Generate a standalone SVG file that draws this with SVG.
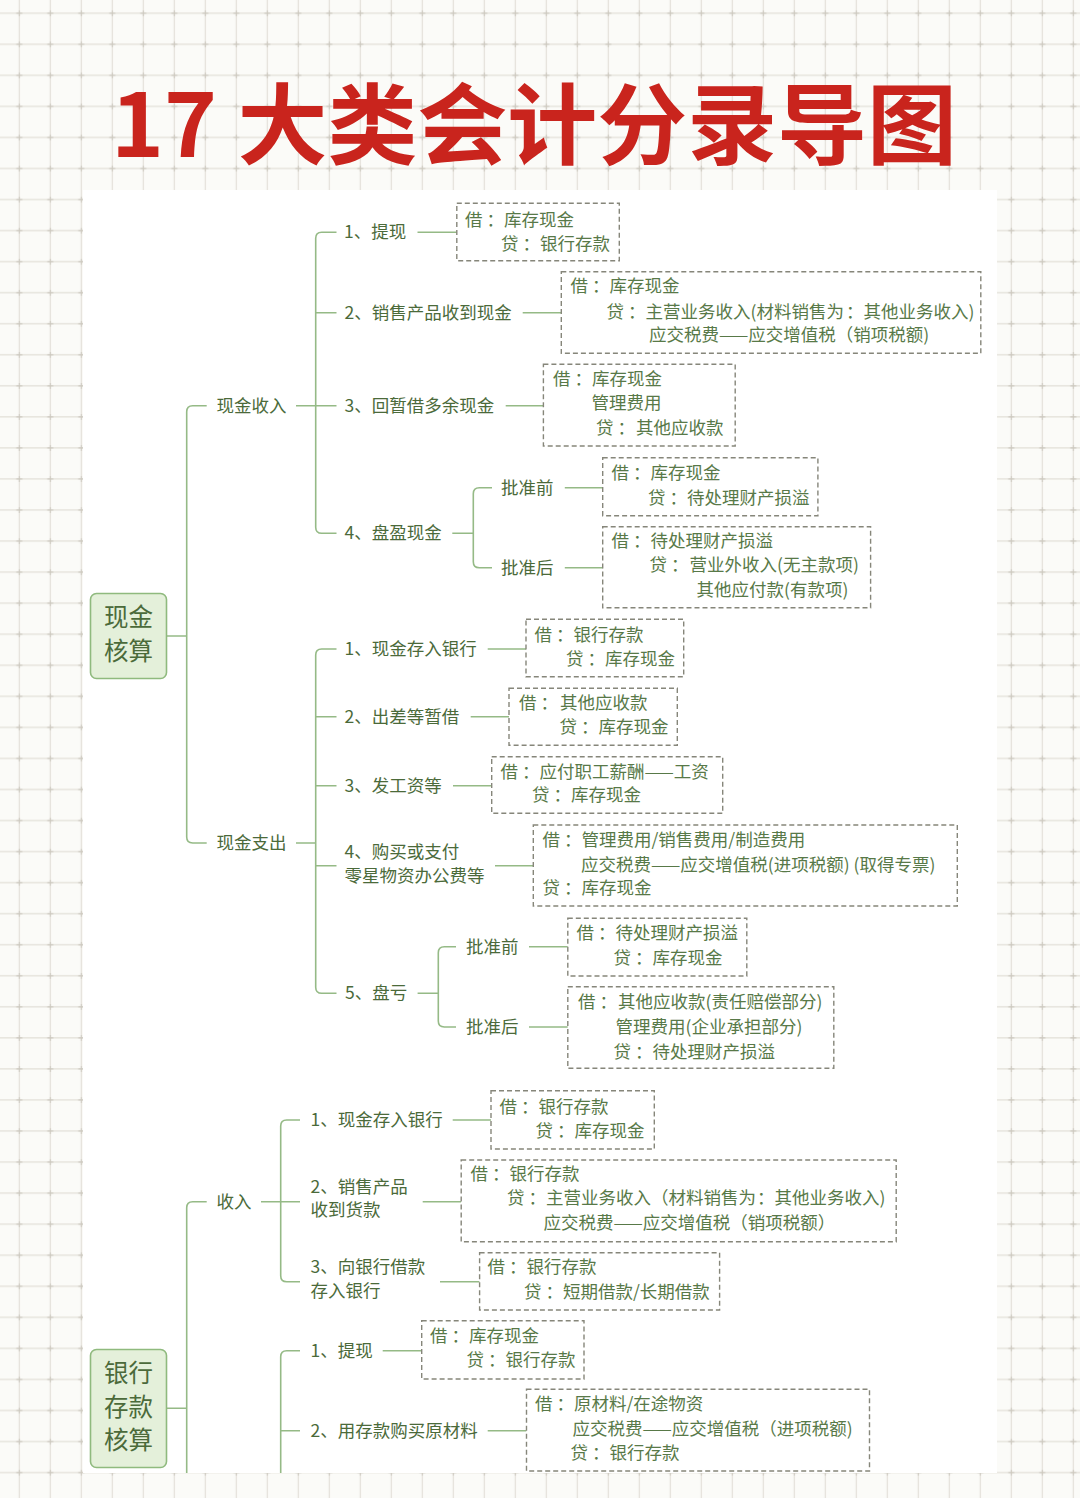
<svg xmlns="http://www.w3.org/2000/svg" width="1080" height="1498" viewBox="0 0 1080 1498">
<defs>
<pattern id="grid" x="3.8" y="-2.2" width="31" height="31.05" patternUnits="userSpaceOnUse">
<path d="M15.5 0V31.05M0 15.5H31" stroke="#e2dfd8" stroke-width="1.2" fill="none"/>
<path d="M12.5 15.5H18.5M15.5 12.5V18.5" stroke="#cdc9bf" stroke-width="1.2" fill="none"/>
</pattern>
</defs>
<style>
text{font-family:"Noto Sans CJK SC","Noto Sans",sans-serif}
.t{font-size:17.5px;fill:#4b6a3a}
.b{font-size:17.5px;fill:#587948}
.box{fill:#fff;stroke:#86867a;stroke-width:1.4;stroke-dasharray:5 3}
.c{fill:none;stroke:#95ba86;stroke-width:1.6}
.rr{fill:#e4f0da;stroke:#8fba7e;stroke-width:1.6}
.rt{font-size:24.5px;fill:#4b6a3a;text-anchor:middle}
.title{font-size:88px;font-weight:700;fill:#c9241d}
</style>
<rect width="1080" height="1498" fill="#fbfbf8"/>
<rect width="1080" height="1498" fill="url(#grid)"/>
<rect x="83" y="190" width="914" height="1283" fill="#ffffff"/>
<text class="title" x="111" y="157" textLength="846" lengthAdjust="spacingAndGlyphs">17 大类会计分录导图</text>

<g id="connectors">
<path class="c" d="M166.7 636H186.7M206.7 405.7H192.7Q186.7 405.7 186.7 411.7V837Q186.7 843 192.7 843H206.7"/>
<path class="c" d="M296 405.7H336.5M336.5 232.3H321.7Q315.7 232.3 315.7 238.3V527.3Q315.7 533.3 321.7 533.3H336.5M315.7 312.7H336.5"/>
<path class="c" d="M417.5 232.3H456.8M522.7 312.7H561.3M505.7 405.7H543.4M452.3 533.3H473.3M492 487.7H479.3Q473.3 487.7 473.3 493.7V561.7Q473.3 567.7 479.3 567.7H492M564.8 487.7H602.7M564.8 567.7H602.7"/>
<path class="c" d="M296 843H315.7M336.5 649H321.7Q315.7 649 315.7 655V987.3Q315.7 993.3 321.7 993.3H336.5M315.7 716.7H336.5M315.7 785.7H336.5M315.7 865.7H336.5"/>
<path class="c" d="M487.7 649H526M470.7 716.7H509M453 785.7H491.7M495 865.7H533.3M417.6 993.3H438.3M456 946.7H444.3Q438.3 946.7 438.3 952.7V1021Q438.3 1027 444.3 1027H456M529 946.7H567.8M529 1027H567.8"/>
<path class="c" d="M166.7 1408.3H186.7M206.7 1201.7H192.7Q186.7 1201.7 186.7 1207.7V1473M261 1201.7H300M300 1120H286.7Q280.7 1120 280.7 1126V1275.7Q280.7 1281.7 286.7 1281.7H300"/>
<path class="c" d="M452.7 1120H491M422.7 1201.7H461.2M440 1281.7H479.6M300 1350.7H286.7Q280.7 1350.7 280.7 1356.7V1473M280.7 1430.7H300M382.7 1350.7H421.7M487.7 1430.7H526.5"/>
</g>

<g id="root-cash">
<rect class="rr" x="90.5" y="593.5" width="76" height="85" rx="6"/>
<text class="rt" x="128.5" y="626">现金</text>
<text class="rt" x="128.5" y="660">核算</text>
</g>

<g id="cash-in"><text class="t" x="216.5" y="411.7">现金收入</text></g>
<g id="ci-1"><text class="t" x="344" y="238.3">1、提现</text></g>
<g id="ci-2"><text class="t" x="344.5" y="318.7">2、销售产品收到现金</text></g>
<g id="ci-3"><text class="t" x="344.5" y="411.7">3、回暂借多余现金</text></g>
<g id="ci-4"><text class="t" x="344.5" y="539.3">4、盘盈现金</text></g>
<g id="ci-4a"><text class="t" x="501" y="493.7">批准前</text></g>
<g id="ci-4b"><text class="t" x="501" y="573.7">批准后</text></g>

<g id="box-ci-1">
<rect class="box" x="456.8" y="203.3" width="162.5" height="57.4"/>
<text class="b" x="465" y="226">借<tspan dx="4">：</tspan><tspan>库存现金</tspan></text>
<text class="b" x="501" y="250.3">贷<tspan dx="4">：</tspan><tspan>银行存款</tspan></text>
</g>
<g id="box-ci-2">
<rect class="box" x="561.3" y="271.7" width="419.5" height="81.6"/>
<text class="b" x="570.5" y="292">借<tspan dx="4">：</tspan><tspan>库存现金</tspan></text>
<text class="b" x="606.5" y="317.7">贷<tspan dx="4">：</tspan><tspan>主营业务收入(材料销售为</tspan><tspan dx="2">：</tspan><tspan>其他业务收入)</tspan></text>
<text class="b" x="649" y="341">应交税费——应交增值税（销项税额)</text>
</g>
<g id="box-ci-3">
<rect class="box" x="543.4" y="364.3" width="191.8" height="81.7"/>
<text class="b" x="553" y="385.3">借<tspan dx="4">：</tspan><tspan>库存现金</tspan></text>
<text class="b" x="591.5" y="409.3">管理费用</text>
<text class="b" y="433.7"><tspan x="596">贷</tspan><tspan dx="4">：</tspan><tspan x="636">其他应收款</tspan></text>
</g>
<g id="box-ci-4a">
<rect class="box" x="602.7" y="457.7" width="215.2" height="58"/>
<text class="b" x="611.5" y="479.3">借<tspan dx="4">：</tspan><tspan>库存现金</tspan></text>
<text class="b" x="648" y="503.7">贷<tspan dx="4">：</tspan><tspan>待处理财产损溢</tspan></text>
</g>
<g id="box-ci-4b">
<rect class="box" x="602.7" y="526.7" width="267.9" height="81"/>
<text class="b" x="611.5" y="547">借<tspan dx="4">：</tspan><tspan>待处理财产损溢</tspan></text>
<text class="b" y="571"><tspan x="649.5">贷</tspan><tspan dx="4">：</tspan><tspan x="689.5">营业外收入(无主款项)</tspan></text>
<text class="b" x="696.5" y="596">其他应付款(有款项)</text>
</g>

<g id="cash-out"><text class="t" x="216.5" y="849">现金支出</text></g>
<g id="co-1"><text class="t" x="344.5" y="655">1、现金存入银行</text></g>
<g id="co-2"><text class="t" x="344.5" y="722.7">2、出差等暂借</text></g>
<g id="co-3"><text class="t" x="344.5" y="791.7">3、发工资等</text></g>
<g id="co-4"><text class="t" x="344.5" y="857.7">4、购买或支付</text><text class="t" x="344.5" y="882">零星物资办公费等</text></g>
<g id="co-5"><text class="t" x="345" y="999.3">5、盘亏</text></g>
<g id="co-5a"><text class="t" x="466" y="952.7">批准前</text></g>
<g id="co-5b"><text class="t" x="466" y="1032.7">批准后</text></g>

<g id="box-co-1">
<rect class="box" x="526" y="619.3" width="157.7" height="57.4"/>
<text class="b" x="534.5" y="641">借<tspan dx="4">：</tspan><tspan>银行存款</tspan></text>
<text class="b" x="566" y="665.3">贷<tspan dx="4">：</tspan><tspan>库存现金</tspan></text>
</g>
<g id="box-co-2">
<rect class="box" x="509" y="688.3" width="168.3" height="57"/>
<text class="b" y="708.7"><tspan x="519">借</tspan><tspan dx="4">：</tspan><tspan x="560">其他应收款</tspan></text>
<text class="b" x="559.5" y="732.7">贷<tspan dx="4">：</tspan><tspan>库存现金</tspan></text>
</g>
<g id="box-co-3">
<rect class="box" x="491.7" y="756.7" width="231" height="56.6"/>
<text class="b" x="500.5" y="777.7">借<tspan dx="4">：</tspan><tspan>应付职工薪酬——工资</tspan></text>
<text class="b" x="532" y="801">贷<tspan dx="4">：</tspan><tspan>库存现金</tspan></text>
</g>
<g id="box-co-4">
<rect class="box" x="533.3" y="825" width="424" height="81"/>
<text class="b" x="542.5" y="846">借<tspan dx="4">：</tspan><tspan>管理费用/销售费用/制造费用</tspan></text>
<text class="b" x="581" y="871">应交税费——应交增值税(进项税额) (取得专票)</text>
<text class="b" x="542.5" y="894.3">贷<tspan dx="4">：</tspan><tspan>库存现金</tspan></text>
</g>
<g id="box-co-5a">
<rect class="box" x="567.8" y="918.3" width="179" height="57.7"/>
<text class="b" x="576.5" y="939.3">借<tspan dx="4">：</tspan><tspan>待处理财产损溢</tspan></text>
<text class="b" x="613.5" y="964.3">贷<tspan dx="4">：</tspan><tspan>库存现金</tspan></text>
</g>
<g id="box-co-5b">
<rect class="box" x="567.8" y="986.7" width="266" height="81.6"/>
<text class="b" y="1007.7"><tspan x="578">借</tspan><tspan dx="4">：</tspan><tspan x="618">其他应收款(责任赔偿部分)</tspan></text>
<text class="b" x="615.5" y="1032.7">管理费用(企业承担部分)</text>
<text class="b" x="613.5" y="1057.7">贷<tspan dx="4">：</tspan><tspan>待处理财产损溢</tspan></text>
</g>

<g id="root-bank">
<rect class="rr" x="90.5" y="1349.5" width="76" height="118" rx="6"/>
<text class="rt" x="128.5" y="1382">银行</text>
<text class="rt" x="128.5" y="1416">存款</text>
<text class="rt" x="128.5" y="1449">核算</text>
</g>

<g id="bank-in"><text class="t" x="216.5" y="1207.7">收入</text></g>
<g id="bi-1"><text class="t" x="310.5" y="1126">1、现金存入银行</text></g>
<g id="bi-2"><text class="t" x="310.5" y="1192.7">2、销售产品</text><text class="t" x="310.5" y="1216">收到货款</text></g>
<g id="bi-3"><text class="t" x="310.5" y="1272.7">3、向银行借款</text><text class="t" x="310.5" y="1297">存入银行</text></g>
<g id="bo-1"><text class="t" x="310.5" y="1356.7">1、提现</text></g>
<g id="bo-2"><text class="t" x="310.5" y="1436.7">2、用存款购买原材料</text></g>

<g id="box-bi-1">
<rect class="box" x="491" y="1090.7" width="163.3" height="58.3"/>
<text class="b" x="499.5" y="1112.7">借<tspan dx="4">：</tspan><tspan>银行存款</tspan></text>
<text class="b" x="535.5" y="1137">贷<tspan dx="4">：</tspan><tspan>库存现金</tspan></text>
</g>
<g id="box-bi-2">
<rect class="box" x="461.2" y="1160" width="435" height="81.7"/>
<text class="b" x="470.5" y="1180.3">借<tspan dx="4">：</tspan><tspan>银行存款</tspan></text>
<text class="b" x="507" y="1204.3">贷<tspan dx="4">：</tspan><tspan>主营业务收入（材料销售为</tspan><tspan dx="1">：</tspan><tspan>其他业务收入)</tspan></text>
<text class="b" x="543.5" y="1229.3">应交税费——应交增值税（销项税额）</text>
</g>
<g id="box-bi-3">
<rect class="box" x="479.6" y="1252.7" width="240" height="57.3"/>
<text class="b" x="487.5" y="1272.7">借<tspan dx="4">：</tspan><tspan>银行存款</tspan></text>
<text class="b" x="524" y="1297.7">贷<tspan dx="4">：</tspan><tspan>短期借款/长期借款</tspan></text>
</g>
<g id="box-bo-1">
<rect class="box" x="421.7" y="1320.7" width="162.3" height="58.3"/>
<text class="b" x="430" y="1342">借<tspan dx="4">：</tspan><tspan>库存现金</tspan></text>
<text class="b" x="466.5" y="1366">贷<tspan dx="4">：</tspan><tspan>银行存款</tspan></text>
</g>
<g id="box-bo-2">
<rect class="box" x="526.5" y="1389.3" width="343" height="81.7"/>
<text class="b" x="535" y="1410">借<tspan dx="4">：</tspan><tspan>原材料/在途物资</tspan></text>
<text class="b" x="572.5" y="1435.3">应交税费——应交增值税（进项税额)</text>
<text class="b" x="570.5" y="1459.3">贷<tspan dx="4">：</tspan><tspan>银行存款</tspan></text>
</g>
</svg>
